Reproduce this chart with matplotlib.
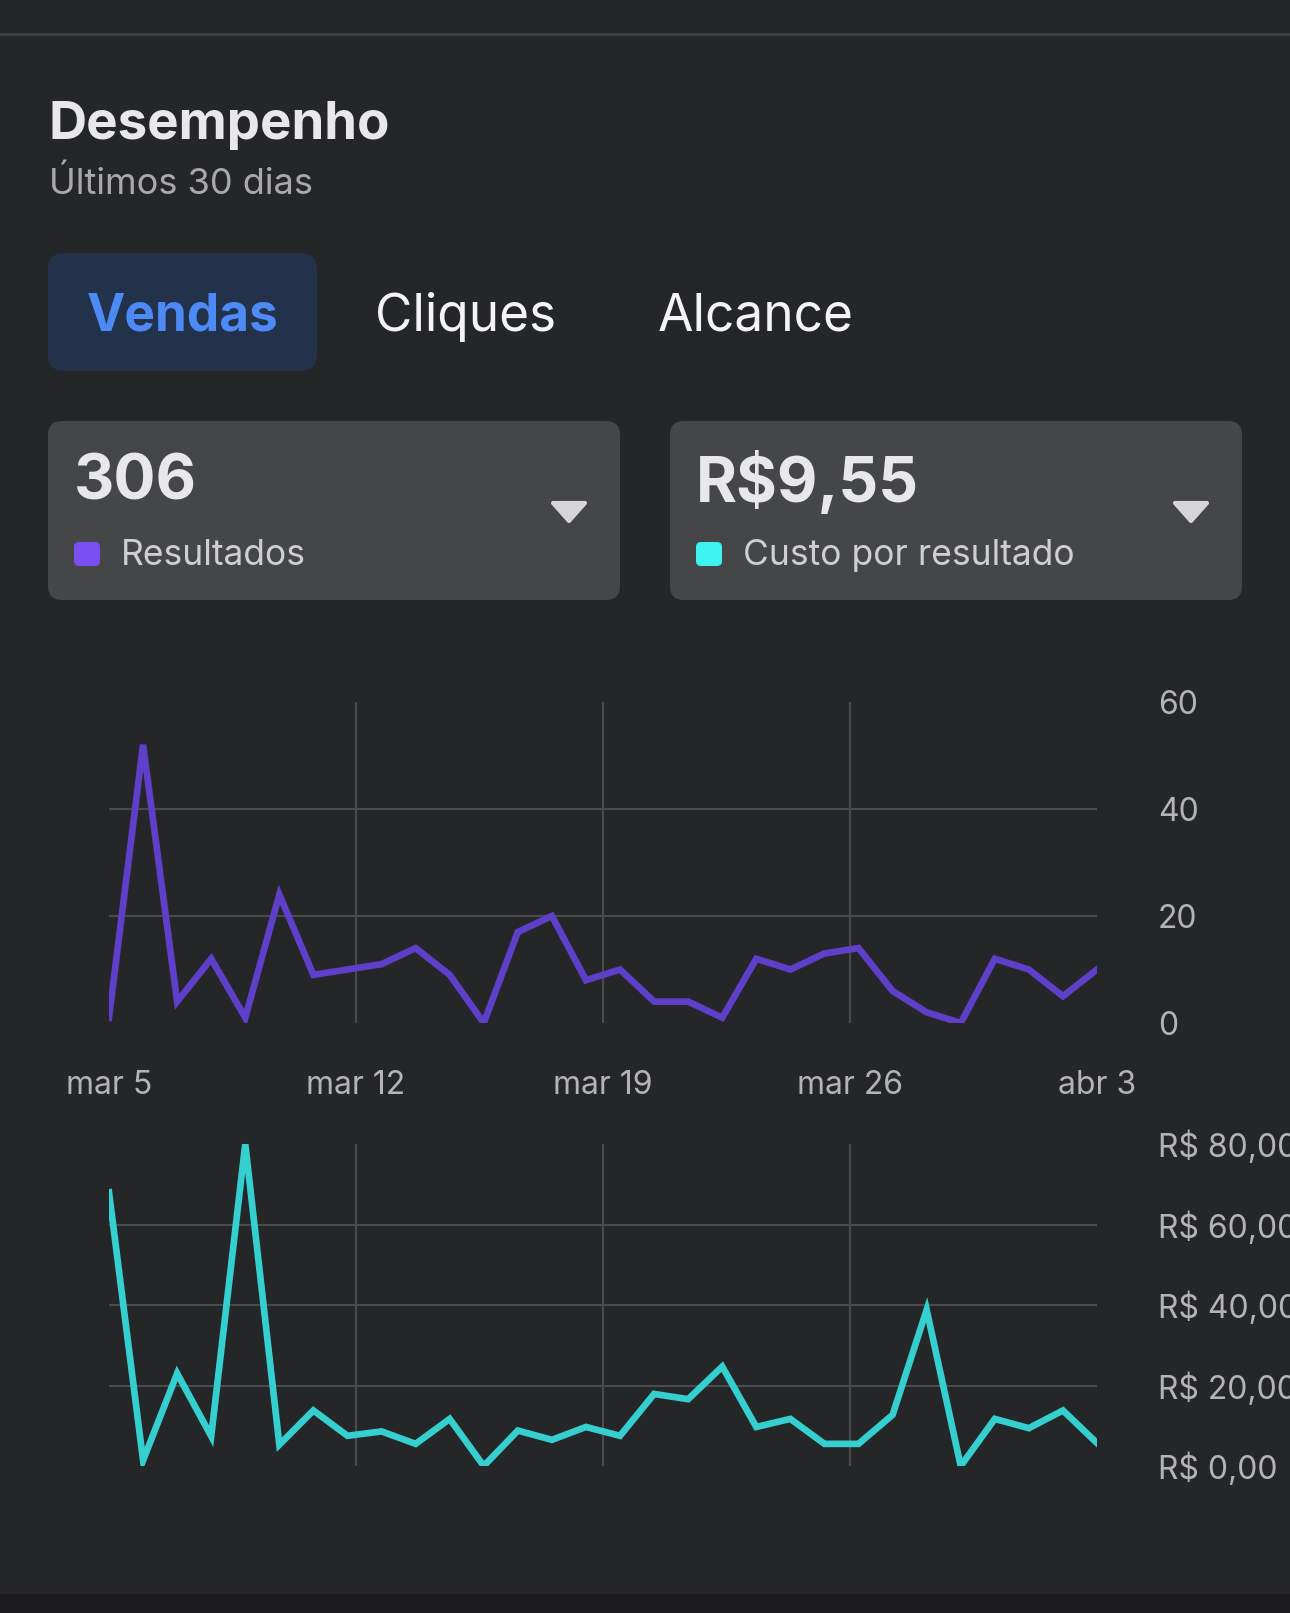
import matplotlib
matplotlib.use("Agg")
import matplotlib.pyplot as plt
from matplotlib.patches import FancyBboxPatch, Rectangle, Polygon

# ── DATA ──────────────────────────────────────────────────────────────────────
resultados = [1, 52, 4, 12, 1, 24, 9, 10, 11, 14, 9, 0, 17, 20, 8, 10,
              4, 4, 1, 12, 10, 13, 14, 6, 2, 0, 12, 10, 5, 10]
custo = [68, 1.4, 23, 7.4, 80, 5.3, 13.8, 7.5, 8.6, 5.5, 11.7, 0, 8.8, 6.5,
         9.7, 7.5, 17.9, 16.6, 24.7, 9.7, 11.7, 5.5, 5.5, 12.7, 38.8, 0,
         11.7, 9.4, 13.8, 5.7]
x_labels = ["mar 5", "mar 12", "mar 19", "mar 26", "abr 3"]
y1_ticks = [0, 20, 40, 60]
y2_ticks = [0, 20, 40, 60, 80]
y2_labels = ["R$ 0,00", "R$ 20,00", "R$ 40,00", "R$ 60,00", "R$ 80,00"]
tabs = ["Vendas", "Cliques", "Alcance"]

# ── STIJL ─────────────────────────────────────────────────────────────────────
BG = "#252628"
CARD = "#454648"
PILL = "#22324b"
BLUE = "#4d8af5"
PURPLE = "#5e3fca"
CYAN = "#35cfcf"
GRID = "#4a4b4d"
TXT = "#e8e8ea"
SUB = "#a9a9ab"
FONT = ["Inter", "DejaVu Sans"]
plt.rcParams["font.family"] = FONT

W, H = 1290, 1613
fig = plt.figure(figsize=(W / 100, H / 100), dpi=100, facecolor=BG)


def fx(x):
    return x / W


def fy(y):
    return 1 - y / H


def box(x0, y0, x1, y1, color, r):
    fig.patches.append(FancyBboxPatch(
        (fx(x0), fy(y1)), fx(x1 - x0), (y1 - y0) / H,
        boxstyle=f"round,pad=0,rounding_size={r / W}",
        transform=fig.transFigure, facecolor=color, edgecolor="none",
        mutation_aspect=W / H))


# bovenlijn en onderstrook
fig.patches.append(Rectangle((0, fy(36)), 1, 3 / H, transform=fig.transFigure,
                             facecolor="#3c3d3f", edgecolor="none"))
fig.patches.append(Rectangle((0, 0), 1, (H - 1594) / H, transform=fig.transFigure,
                             facecolor="#1c1c1e", edgecolor="none"))

# titel
fig.text(fx(49), fy(126), "Desempenho", fontsize=38, fontweight="bold",
         color=TXT, va="center", ha="left")
fig.text(fx(49), fy(184), "Últimos 30 dias", fontsize=26, color=SUB,
         va="center", ha="left")

# tabs
box(48, 253, 317, 371, PILL, 16)
for lbl, cx in zip(tabs, [183, 466, 756]):
    actief = lbl == "Vendas"
    fig.text(fx(cx), fy(317), lbl, fontsize=37,
             fontweight="bold" if actief else "normal",
             color=BLUE if actief else "#f4f4f6", ha="center", va="center")

# kaarten
for x0, big, small, kleur in [(48, "306", "Resultados", "#7a4ff0"),
                              (670, "R$9,55", "Custo por resultado", "#3ff3f3")]:
    box(x0, 421, x0 + 572, 600, CARD, 14)
    fig.text(fx(x0 + 26), fy(483), big, fontsize=45, fontweight="bold",
             color=TXT, ha="left", va="center")
    box(x0 + 26, 542, x0 + 52, 566, kleur, 5)
    fig.text(fx(x0 + 73), fy(556), small, fontsize=25.5, color="#cfcfd1",
             ha="left", va="center")
    cx = x0 + 521
    fig.patches.append(Polygon(
        [(fx(cx - 16), fy(503)), (fx(cx + 16), fy(503)), (fx(cx), fy(521))],
        closed=True, transform=fig.transFigure, facecolor="#d6d6d8",
        edgecolor="#d6d6d8", linewidth=3, joinstyle="round"))


def chart(top, bottom, data, kleur, ymax, ticks, labels, show_x):
    ax = fig.add_axes([fx(109), fy(bottom), fx(1097 - 109), (bottom - top) / H])
    ax.set_facecolor(BG)
    n = len(data) - 1
    xpos = [n * i / 4 for i in range(5)]
    for xp in xpos[1:-1]:
        ax.axvline(xp, color=GRID, lw=1.5, zorder=1)
    for t in ticks[1:-1]:
        ax.axhline(t, color=GRID, lw=1.5, zorder=1)
    ax.plot(range(len(data)), data, color=kleur, lw=4.8, zorder=3,
            solid_joinstyle="miter")
    ax.set_xlim(0, n)
    ax.set_ylim(0, ymax)
    for s in ax.spines.values():
        s.set_visible(False)
    ax.yaxis.tick_right()
    ax.set_yticks(ticks)
    ax.set_yticklabels(labels)
    ax.tick_params(axis="y", length=0, pad=44, labelsize=23, labelcolor="#b4b4b6")
    if show_x:
        ax.set_xticks(xpos)
        ax.set_xticklabels(x_labels)
        ax.tick_params(axis="x", length=0, pad=34, labelsize=23,
                       labelcolor="#b4b4b6")
    else:
        ax.set_xticks([])
    return ax


chart(702, 1023, resultados, PURPLE, 60, y1_ticks, [str(t) for t in y1_ticks], True)
chart(1144, 1466, custo, CYAN, 80, y2_ticks, y2_labels, False)

fig.savefig("out.png", dpi=100, facecolor=BG)
